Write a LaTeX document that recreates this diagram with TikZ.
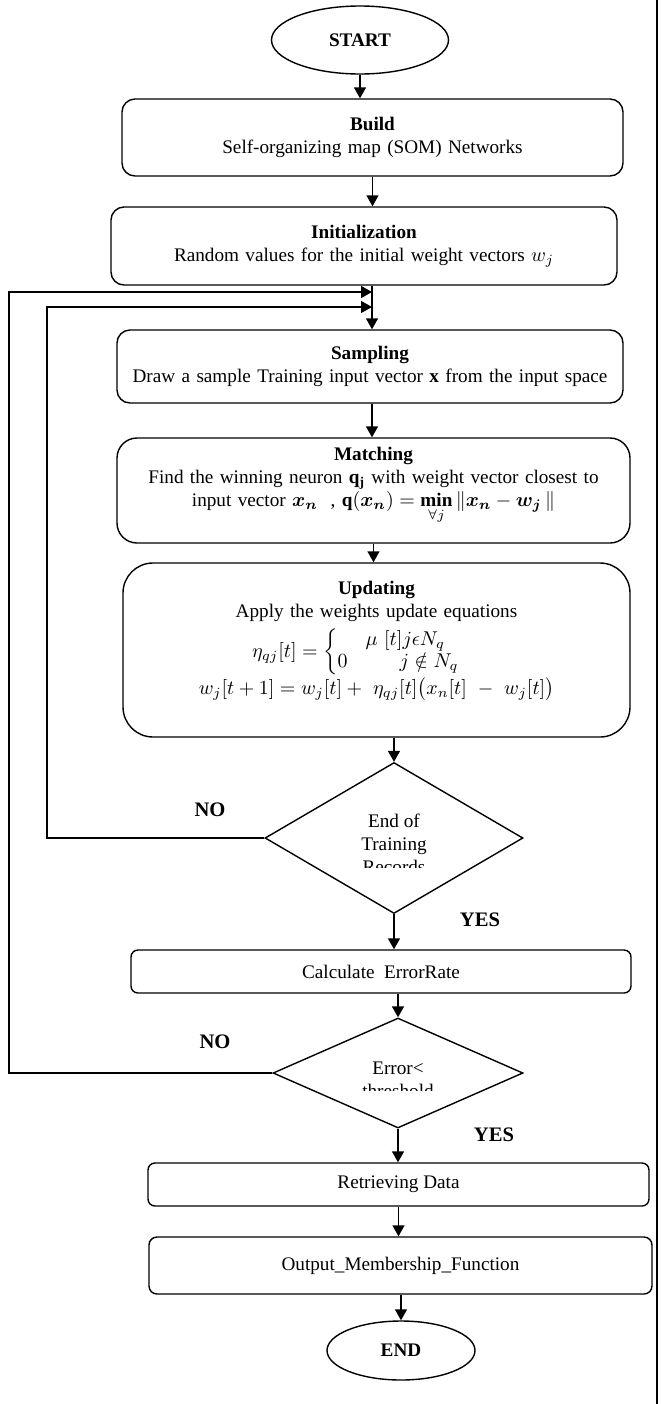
\documentclass[tikz,border=0pt]{standalone}
\usepackage{amsmath}
\usepackage{amssymb}
\usepackage{fontspec}
\setmainfont{Liberation Serif}
\usetikzlibrary{
        arrows.meta,
        shapes,
        shapes.geometric
    }
\tikzset{txt/.style={font=\fontsize{9.6}{11.5}\selectfont}}
\tikzset{
        terminal/.style={ellipse,draw,inner sep=0pt,font=\fontsize{9.6}{11.5}\selectfont\bfseries},
        process/.style={rectangle,draw,txt,align=center,inner sep=2pt},
        decision/.style={diamond,draw,inner sep=0pt},
        answer/.style={font=\fontsize{10.3}{12}\selectfont\bfseries}
    }

\begin{document}
\begin{tikzpicture}[x=0.5pt,y=-0.5pt,line width=0.7pt,>={Triangle[width=6pt,length=5.5pt]}]
                    \useasboundingbox (0,0) rectangle (662,1404);
                    \node[terminal,minimum width=88.5pt,minimum height=34pt] (start) at (360,40) {START};
                    \node[process,rounded corners=6.5pt,minimum width=250.5pt,minimum height=38.5pt,text width=235pt] (build) at (372.5,137.5)
                        {\textbf{Build}\\Self-organizing map (SOM) Networks};
                    \node[process,rounded corners=6.5pt,minimum width=253pt,minimum height=39pt,text width=240pt] (init) at (364,246)
                        {\textbf{Initialization}\\Random values for the initial weight vectors $w_j$};
                    \node[process,rounded corners=6.5pt,minimum width=253pt,minimum height=36.5pt,text width=245pt] (samp) at (370,366.5)
                        {\textbf{Sampling}\\Draw a sample Training input vector \textbf{x} from the input space};
                    \node[process,rounded corners=10pt,minimum width=256.5pt,minimum height=52.5pt,text width=245pt] (match) at (373.5,490.5)
                        {\textbf{Matching}\\Find the winning neuron $\mathbf{q}_{\mathbf{j}}$ with weight vector closest to\\
                         \mbox{input vector $\boldsymbol{x_n}$\ \ , $\mathbf{q}(\boldsymbol{x_n}) = \mathop{\mathbf{min}}\limits_{\forall j}\|\boldsymbol{x_n}-\boldsymbol{w_j}\,\|$}\\[2pt]\mbox{}};
                    \node[process,rounded corners=15pt,minimum width=253.5pt,minimum height=87pt,text width=245pt] (upd) at (376.5,650)
                        {\def\arraystretch{0.95}\textbf{Updating}\\Apply the weights update equations\\[3pt]
                         \mbox{$\eta_{qj}[t]=\left\{\begin{array}{@{}l@{}}\hspace{14pt}\mu\ [t]j\epsilon N_q\\ 0\hspace{26pt}j\notin N_q\end{array}\right.$\hspace{20pt}}\\
                         \mbox{$w_j[t+1]=w_j[t]+\ \eta_{qj}[t]\bigl(x_n[t]\ -\ w_j[t]\bigr)$}\\[1pt]\mbox{}};
                    \node[decision,minimum width=129pt,minimum height=75.5pt] (dec1) at (394,838) {};
                    \node[process,rounded corners=3.5pt,minimum width=250pt,minimum height=21.5pt] (calc) at (381,971.5) {Calculate\ \ ErrorRate};
                    \node[decision,minimum width=125pt,minimum height=55pt] (dec2) at (398,1073) {};
                    \node[process,rounded corners=3.5pt,minimum width=250.5pt,minimum height=21.5pt] (retr) at (398.5,1184.5) {Retrieving Data};
                    \node[process,rounded corners=4pt,minimum width=251.5pt,minimum height=28.5pt] (out) at (400.5,1265.5) {Output\_Membership\_Function};
                    \node[terminal,minimum width=74pt,minimum height=29.5pt] (stop) at (401,1350.5) {END};
                    \begin{scope}
                        \clip (265,760) rectangle (523,867);
                        \node[txt,align=center] (dec1txt) at (394,844) {End of\\Training\\Records};
                    \end{scope}
                    \begin{scope}
                        \clip (274,1015) rectangle (524,1090);
                        \node[txt,align=center] (dec2txt) at (398,1080) {Error<\\threshold};
                    \end{scope}
                    \node[answer] (no1) at (210,810) {NO};
                    \node[answer] (yes1) at (480,920) {YES};
                    \node[answer] (no2) at (215,1042) {NO};
                    \node[answer] (yes2) at (494,1135) {YES};
                    \coordinate (outerin) at (372,292);
                    \coordinate (innerin) at (372,307);
                    \coordinate (outerx) at (9,0);
                    \coordinate (innerx) at (47,0);
                    \draw[->] (start.south) -- (start.south |- build.north);
                    \draw[->] (build.south) -- (build.south |- init.north);
                    \draw[->] (init.south -| innerin) -- (innerin |- samp.north);
                    \draw[->] (samp.south -| innerin) -- (innerin |- match.north);
                    \draw[->] (match.south) -- (match.south |- upd.north);
                    \draw[->] (dec1.north |- upd.south) -- (dec1.north);
                    \draw[->] (dec1.south) -- (dec1.south |- calc.north);
                    \draw[->] (dec2.north |- calc.south) -- (dec2.north);
                    \draw[->] (dec2.south) -- (dec2.south |- retr.north);
                    \draw[->] (retr.south) -- (retr.south |- out.north);
                    \draw[->] (stop.north |- out.south) -- (stop.north);
                    \draw[->] (dec1.west) -- (dec1.west -| innerx) |- (innerin);
                    \draw[->] (dec2.west) -- (dec2.west -| outerx) |- (outerin);
                    \draw[line width=1pt] (657,0) -- (657,1404);
                \end{tikzpicture}
\end{document}
